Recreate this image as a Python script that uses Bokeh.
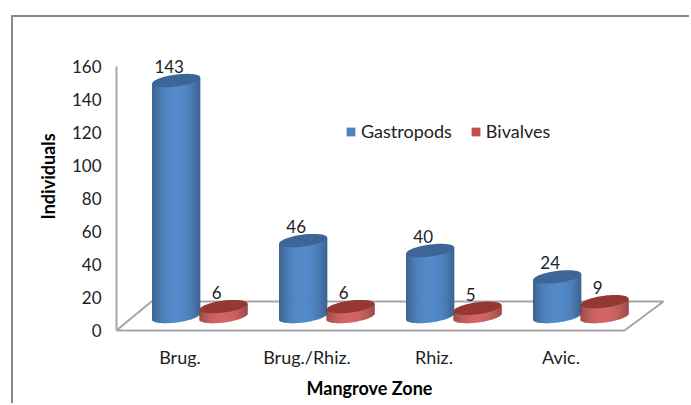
from bokeh.plotting import figure
from bokeh.embed import file_html
from bokeh.resources import INLINE
from bokeh.models import Range1d, FixedTicker, Legend, LegendItem, Title, ColumnDataSource
from bokeh.core.properties import value
import math

categories = ["Brug.", "Brug./Rhiz.", "Rhiz.", "Avic."]
gastropods = [143, 46, 40, 24]
bivalves = [6, 6, 5, 9]
y_ticks = [0, 20, 40, 60, 80, 100, 120, 140, 160]

FONT = "Lato"
GRID = "#a6a6a6"
TEXT = "#222222"

W, H = 678, 388
L, T, R, B = 103, 24, 26, 73
fw, fh = W - L - R, H - T - B
px_y = 160 / 264
px_x = 1 / 127
x0 = -0.5
x1 = x0 + fw * px_x
y1 = 160 + 25 * px_y
y0 = y1 - fh * px_y

p = figure(width=W, height=H, output_backend="svg", toolbar_location=None,
           x_range=Range1d(x0, x1), y_range=Range1d(y0, y1),
           min_border_left=L, min_border_right=R, min_border_top=T, min_border_bottom=B,
           margin=(15, 0, 0, 11),
           styles={"border-top": "2px solid #8a8a8a", "border-left": "2px solid #8a8a8a"})
p.outline_line_color = None
p.grid.visible = False

# floor
d_l, d_r, d_y = 35 * px_x, 39 * px_x, 29 * px_y
p.line([x0, x0 + d_l, 3.5 + d_r, 3.5, x0],
       [0, d_y, d_y, 0, 0], line_color=GRID, line_width=2)

BASE = 14 * px_y
A = 24 * px_x
Bb = 6 * px_y
TILT = 3 * px_y
N = 48


def mix(c0, c1, f):
    return "#%02x%02x%02x" % tuple(round(a + (b - a) * f) for a, b in zip(c0, c1))


def cylinder(cx, v, edge, mid, cap):
    top = BASE + v
    lefts, rights, bots, tops, cols = [], [], [], [], []
    for i in range(N):
        t = -1 + 2 * (i + 0.5) / N
        s = 1 - abs(t) ** 2.2
        lefts.append(cx + A * (t - 1 / N) - 0.15 * px_x)
        rights.append(cx + A * (t + 1 / N) + 0.15 * px_x)
        bots.append(BASE + TILT * t - Bb * math.sqrt(max(0, 1 - t * t)))
        tops.append(top + TILT * t)
        cols.append(mix(edge, mid, s))
    p.quad(left=lefts, right=rights, bottom=bots, top=tops, fill_color=cols, fill_alpha=1, line_color=None)
    th = [2 * math.pi * k / 60 for k in range(60)]
    p.patch([cx + A * math.cos(a) for a in th],
            [top + TILT * math.cos(a) + Bb * math.sin(a) for a in th],
            fill_color=cap, fill_alpha=1, line_color=None)
    return top


BLUE = ((0x34, 0x5f, 0x8e), (0x50, 0x87, 0xc8), "#3b6696")
RED = ((0x8a, 0x33, 0x30), (0xcb, 0x52, 0x4f), "#953735")

lab_x, lab_y, lab_t = [], [], []
for i in range(len(categories)):
    cb, cr = i - 0.03, i + 0.343
    tb = cylinder(cb, gastropods[i], *BLUE)
    tr = cylinder(cr, bivalves[i], *RED)
    lab_x += [cb, cr]
    lab_y += [tb, tr]
    lab_t += [str(gastropods[i]), str(bivalves[i])]

p.text(x="x", y="y", text="t", source=ColumnDataSource(dict(x=lab_x, y=lab_y, t=lab_t)),
       x_offset=-7, y_offset=-14, text_align="center", text_baseline="middle",
       text_font=value(FONT), text_font_size="17px", text_color=TEXT)

# axes
p.yaxis.ticker = FixedTicker(ticks=y_ticks)
p.yaxis.bounds = (0, 160)
p.yaxis.axis_line_color = GRID
p.yaxis.axis_line_width = 2
p.yaxis.major_tick_line_color = None
p.yaxis.minor_tick_line_color = None
p.yaxis.major_tick_out = 0
p.yaxis.major_label_standoff = 15
p.yaxis.major_label_text_font = FONT
p.yaxis.major_label_text_font_size = "17px"
p.yaxis.major_label_text_color = TEXT

p.xaxis.ticker = FixedTicker(ticks=list(range(len(categories))))
p.xaxis.major_label_overrides = {i: c for i, c in enumerate(categories)}
p.xaxis.axis_line_color = None
p.xaxis.major_tick_line_color = None
p.xaxis.minor_tick_line_color = None
p.xaxis.major_tick_out = 0
p.xaxis.major_label_standoff = 13
p.xaxis.major_label_text_font = FONT
p.xaxis.major_label_text_font_size = "18px"
p.xaxis.major_label_text_color = TEXT

p.add_layout(Title(text="Individuals", text_font=FONT, text_font_style="bold",
                   text_font_size="18px", text_color="#000000", align="left", offset=113,
                   standoff=19), "left")
p.add_layout(Title(text="Mangrove Zone", text_font=FONT, text_font_style="bold",
                   text_font_size="18px", text_color="#000000", align="left", offset=190,
                   standoff=9), "below")

# legend
nan = float("nan")
g1 = p.quad(left=[nan], right=[nan], bottom=[nan], top=[nan], fill_color="#4f81bd", fill_alpha=1, line_color=None)
g2 = p.quad(left=[nan], right=[nan], bottom=[nan], top=[nan], fill_color="#c0504d", fill_alpha=1, line_color=None)
legend = Legend(items=[LegendItem(label="Gastropods", renderers=[g1]), LegendItem(label="Bivalves", renderers=[g2])],
                location=(229, 190), orientation="horizontal", background_fill_alpha=0, border_line_color=None,
                glyph_width=11, glyph_height=11, label_text_font=FONT, label_text_font_size="18px",
                label_text_color=TEXT, spacing=18, label_standoff=5, padding=0, margin=0)
p.add_layout(legend)

open("out.html", "w").write(file_html(p, INLINE))
